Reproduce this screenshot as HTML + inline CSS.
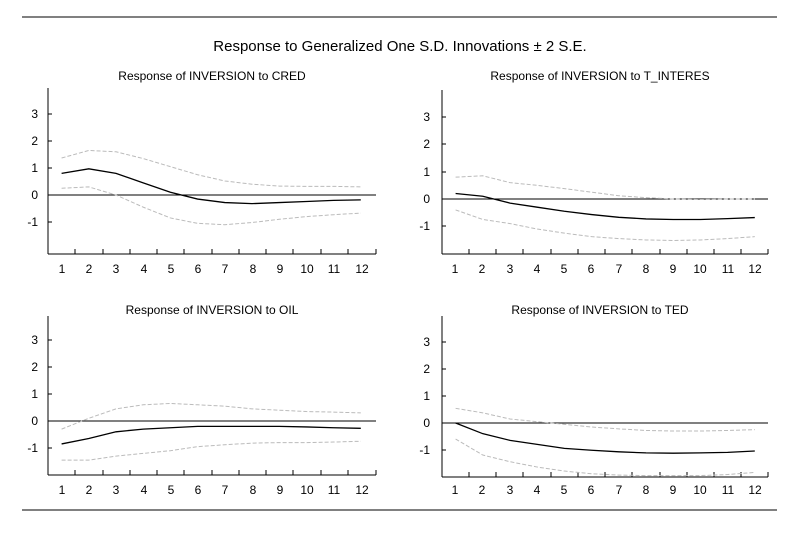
<!DOCTYPE html>
<html><head><style>body{margin:0;background:#fff}</style></head><body>
<svg width="792" height="529" xmlns="http://www.w3.org/2000/svg" font-family="Liberation Sans, sans-serif">
<rect width="792" height="529" fill="#fff"/>
<line x1="22" y1="17" x2="777" y2="17" stroke="#000" stroke-width="1"/>
<line x1="22" y1="510" x2="777" y2="510" stroke="#000" stroke-width="1"/>
<text x="400" y="51" font-size="15" text-anchor="middle">Response to Generalized One S.D. Innovations ± 2 S.E.</text>

<!-- Panel 1 -->
<g font-size="12">
<text x="212" y="80" text-anchor="middle">Response of INVERSION to CRED</text>
<line x1="48" y1="88" x2="48" y2="254" stroke="#000"/>
<line x1="48" y1="254" x2="376" y2="254" stroke="#000"/>
<line x1="48" y1="195" x2="376" y2="195" stroke="#000"/>
<g stroke="#000"><line x1="48" y1="114" x2="52" y2="114"/><line x1="48" y1="141" x2="52" y2="141"/><line x1="48" y1="168" x2="52" y2="168"/><line x1="48" y1="222" x2="52" y2="222"/></g>
<g text-anchor="end"><text x="38" y="118">3</text><text x="38" y="145">2</text><text x="38" y="172">1</text><text x="38" y="199">0</text><text x="38" y="226">-1</text></g>
<g stroke="#000"><line x1="75" y1="249" x2="75" y2="254"/><line x1="103" y1="249" x2="103" y2="254"/><line x1="130" y1="249" x2="130" y2="254"/><line x1="157" y1="249" x2="157" y2="254"/><line x1="184" y1="249" x2="184" y2="254"/><line x1="212" y1="249" x2="212" y2="254"/><line x1="239" y1="249" x2="239" y2="254"/><line x1="266" y1="249" x2="266" y2="254"/><line x1="293" y1="249" x2="293" y2="254"/><line x1="321" y1="249" x2="321" y2="254"/><line x1="348" y1="249" x2="348" y2="254"/><line x1="376" y1="249" x2="376" y2="254"/></g>
<g text-anchor="middle"><text x="62" y="273">1</text><text x="89" y="273">2</text><text x="116" y="273">3</text><text x="144" y="273">4</text><text x="171" y="273">5</text><text x="198" y="273">6</text><text x="225" y="273">7</text><text x="253" y="273">8</text><text x="280" y="273">9</text><text x="307" y="273">10</text><text x="334" y="273">11</text><text x="362" y="273">12</text></g>
<g transform="translate(48,195) scale(27.2,-27)" fill="none">
<polyline vector-effect="non-scaling-stroke" stroke="#000" stroke-width="1.3" points="0.5,0.8 1.5,0.97 2.5,0.8 3.5,0.45 4.5,0.1 5.5,-0.15 6.5,-0.28 7.5,-0.32 8.5,-0.28 9.5,-0.24 10.5,-0.2 11.5,-0.18"/>
<polyline vector-effect="non-scaling-stroke" stroke="#bbb" stroke-dasharray="4,2" points="0.5,1.37 1.5,1.65 2.5,1.6 3.5,1.35 4.5,1.05 5.5,0.75 6.5,0.52 7.5,0.4 8.5,0.33 9.5,0.32 10.5,0.32 11.5,0.3"/>
<polyline vector-effect="non-scaling-stroke" stroke="#bbb" stroke-dasharray="4,2" points="0.5,0.25 1.5,0.3 2.5,0 3.5,-0.45 4.5,-0.85 5.5,-1.05 6.5,-1.1 7.5,-1.02 8.5,-0.9 9.5,-0.8 10.5,-0.73 11.5,-0.67"/>
</g>
</g>

<!-- Panel 2 -->
<g font-size="12">
<text x="600" y="80" text-anchor="middle">Response of INVERSION to T_INTERES</text>
<line x1="442" y1="90" x2="442" y2="254" stroke="#000"/>
<line x1="442" y1="254" x2="768" y2="254" stroke="#000"/>
<line x1="442" y1="199" x2="768" y2="199" stroke="#000"/>
<g stroke="#000"><line x1="442" y1="117" x2="446" y2="117"/><line x1="442" y1="144" x2="446" y2="144"/><line x1="442" y1="172" x2="446" y2="172"/><line x1="442" y1="226" x2="446" y2="226"/></g>
<g text-anchor="end"><text x="430" y="121">3</text><text x="430" y="148">2</text><text x="430" y="176">1</text><text x="430" y="203">0</text><text x="430" y="230">-1</text></g>
<g stroke="#000"><line x1="469" y1="249" x2="469" y2="254"/><line x1="496" y1="249" x2="496" y2="254"/><line x1="523" y1="249" x2="523" y2="254"/><line x1="551" y1="249" x2="551" y2="254"/><line x1="578" y1="249" x2="578" y2="254"/><line x1="605" y1="249" x2="605" y2="254"/><line x1="632" y1="249" x2="632" y2="254"/><line x1="660" y1="249" x2="660" y2="254"/><line x1="687" y1="249" x2="687" y2="254"/><line x1="714" y1="249" x2="714" y2="254"/><line x1="741" y1="249" x2="741" y2="254"/><line x1="768" y1="249" x2="768" y2="254"/></g>
<g text-anchor="middle"><text x="455" y="273">1</text><text x="482" y="273">2</text><text x="510" y="273">3</text><text x="537" y="273">4</text><text x="564" y="273">5</text><text x="591" y="273">6</text><text x="619" y="273">7</text><text x="646" y="273">8</text><text x="673" y="273">9</text><text x="700" y="273">10</text><text x="728" y="273">11</text><text x="755" y="273">12</text></g>
<g transform="translate(442,199) scale(27.2,-27.3)" fill="none">
<polyline vector-effect="non-scaling-stroke" stroke="#000" stroke-width="1.3" points="0.5,0.2 1.5,0.1 2.5,-0.15 3.5,-0.3 4.5,-0.45 5.5,-0.57 6.5,-0.67 7.5,-0.73 8.5,-0.75 9.5,-0.75 10.5,-0.72 11.5,-0.68"/>
<polyline vector-effect="non-scaling-stroke" stroke="#bbb" stroke-dasharray="4,2" points="0.5,0.8 1.5,0.85 2.5,0.6 3.5,0.5 4.5,0.38 5.5,0.25 6.5,0.12 7.5,0.05 8.5,0 9.5,-0.02 10.5,0 11.5,0"/>
<polyline vector-effect="non-scaling-stroke" stroke="#bbb" stroke-dasharray="4,2" points="0.5,-0.4 1.5,-0.75 2.5,-0.9 3.5,-1.1 4.5,-1.25 5.5,-1.38 6.5,-1.45 7.5,-1.5 8.5,-1.52 9.5,-1.5 10.5,-1.45 11.5,-1.38"/>
</g>
</g>

<!-- Panel 3 -->
<g font-size="12">
<text x="212" y="314" text-anchor="middle">Response of INVERSION to OIL</text>
<line x1="48" y1="316" x2="48" y2="475" stroke="#000"/>
<line x1="48" y1="475" x2="376" y2="475" stroke="#000"/>
<line x1="48" y1="421" x2="376" y2="421" stroke="#000"/>
<g stroke="#000"><line x1="48" y1="340" x2="52" y2="340"/><line x1="48" y1="367" x2="52" y2="367"/><line x1="48" y1="394" x2="52" y2="394"/><line x1="48" y1="448" x2="52" y2="448"/></g>
<g text-anchor="end"><text x="38" y="344">3</text><text x="38" y="371">2</text><text x="38" y="398">1</text><text x="38" y="425">0</text><text x="38" y="452">-1</text></g>
<g stroke="#000"><line x1="75" y1="470" x2="75" y2="475"/><line x1="103" y1="470" x2="103" y2="475"/><line x1="130" y1="470" x2="130" y2="475"/><line x1="157" y1="470" x2="157" y2="475"/><line x1="184" y1="470" x2="184" y2="475"/><line x1="212" y1="470" x2="212" y2="475"/><line x1="239" y1="470" x2="239" y2="475"/><line x1="266" y1="470" x2="266" y2="475"/><line x1="293" y1="470" x2="293" y2="475"/><line x1="321" y1="470" x2="321" y2="475"/><line x1="348" y1="470" x2="348" y2="475"/><line x1="376" y1="470" x2="376" y2="475"/></g>
<g text-anchor="middle"><text x="62" y="494">1</text><text x="89" y="494">2</text><text x="116" y="494">3</text><text x="144" y="494">4</text><text x="171" y="494">5</text><text x="198" y="494">6</text><text x="225" y="494">7</text><text x="253" y="494">8</text><text x="280" y="494">9</text><text x="307" y="494">10</text><text x="334" y="494">11</text><text x="362" y="494">12</text></g>
<g transform="translate(48,421) scale(27.2,-27)" fill="none">
<polyline vector-effect="non-scaling-stroke" stroke="#000" stroke-width="1.3" points="0.5,-0.85 1.5,-0.65 2.5,-0.4 3.5,-0.3 4.5,-0.25 5.5,-0.2 6.5,-0.2 7.5,-0.2 8.5,-0.2 9.5,-0.22 10.5,-0.25 11.5,-0.27"/>
<polyline vector-effect="non-scaling-stroke" stroke="#bbb" stroke-dasharray="4,2" points="0.5,-0.3 1.5,0.1 2.5,0.45 3.5,0.6 4.5,0.65 5.5,0.6 6.5,0.55 7.5,0.45 8.5,0.4 9.5,0.35 10.5,0.33 11.5,0.3"/>
<polyline vector-effect="non-scaling-stroke" stroke="#bbb" stroke-dasharray="4,2" points="0.5,-1.45 1.5,-1.45 2.5,-1.3 3.5,-1.2 4.5,-1.1 5.5,-0.95 6.5,-0.88 7.5,-0.82 8.5,-0.8 9.5,-0.8 10.5,-0.78 11.5,-0.75"/>
</g>
</g>

<!-- Panel 4 -->
<g font-size="12">
<text x="600" y="314" text-anchor="middle">Response of INVERSION to TED</text>
<line x1="442" y1="316" x2="442" y2="477" stroke="#000"/>
<line x1="442" y1="477" x2="768" y2="477" stroke="#000"/>
<line x1="442" y1="423" x2="768" y2="423" stroke="#000"/>
<g stroke="#000"><line x1="442" y1="342" x2="446" y2="342"/><line x1="442" y1="369" x2="446" y2="369"/><line x1="442" y1="396" x2="446" y2="396"/><line x1="442" y1="450" x2="446" y2="450"/></g>
<g text-anchor="end"><text x="430" y="346">3</text><text x="430" y="373">2</text><text x="430" y="400">1</text><text x="430" y="427">0</text><text x="430" y="454">-1</text></g>
<g stroke="#000"><line x1="469" y1="472" x2="469" y2="477"/><line x1="496" y1="472" x2="496" y2="477"/><line x1="523" y1="472" x2="523" y2="477"/><line x1="551" y1="472" x2="551" y2="477"/><line x1="578" y1="472" x2="578" y2="477"/><line x1="605" y1="472" x2="605" y2="477"/><line x1="632" y1="472" x2="632" y2="477"/><line x1="660" y1="472" x2="660" y2="477"/><line x1="687" y1="472" x2="687" y2="477"/><line x1="714" y1="472" x2="714" y2="477"/><line x1="741" y1="472" x2="741" y2="477"/><line x1="768" y1="472" x2="768" y2="477"/></g>
<g text-anchor="middle"><text x="455" y="494">1</text><text x="482" y="494">2</text><text x="510" y="494">3</text><text x="537" y="494">4</text><text x="564" y="494">5</text><text x="591" y="494">6</text><text x="619" y="494">7</text><text x="646" y="494">8</text><text x="673" y="494">9</text><text x="700" y="494">10</text><text x="728" y="494">11</text><text x="755" y="494">12</text></g>
<g transform="translate(442,423) scale(27.2,-26.7)" fill="none">
<polyline vector-effect="non-scaling-stroke" stroke="#000" stroke-width="1.3" points="0.5,0 1.5,-0.4 2.5,-0.65 3.5,-0.8 4.5,-0.95 5.5,-1.02 6.5,-1.08 7.5,-1.12 8.5,-1.13 9.5,-1.12 10.5,-1.1 11.5,-1.05"/>
<polyline vector-effect="non-scaling-stroke" stroke="#bbb" stroke-dasharray="4,2" points="0.5,0.55 1.5,0.38 2.5,0.15 3.5,0.05 4.5,-0.05 5.5,-0.15 6.5,-0.22 7.5,-0.28 8.5,-0.3 9.5,-0.3 10.5,-0.28 11.5,-0.25"/>
<polyline vector-effect="non-scaling-stroke" stroke="#bbb" stroke-dasharray="4,2" points="0.5,-0.6 1.5,-1.2 2.5,-1.45 3.5,-1.65 4.5,-1.8 5.5,-1.9 6.5,-1.95 7.5,-1.97 8.5,-1.97 9.5,-1.97 10.5,-1.93 11.5,-1.85"/>
</g>
</g>
</svg>
</body></html>
